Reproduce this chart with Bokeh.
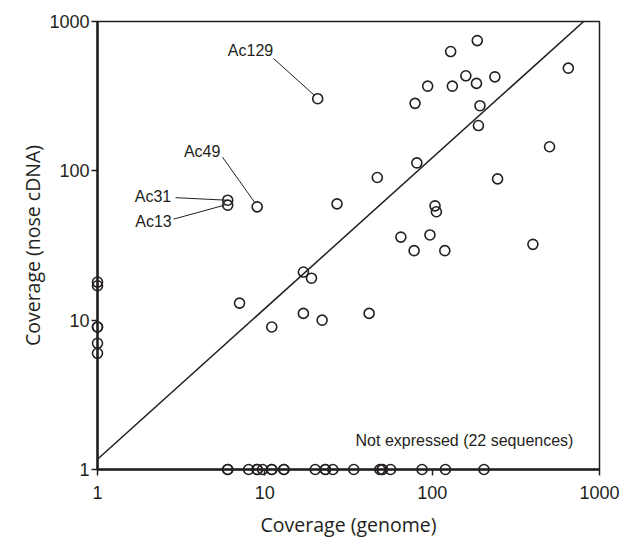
from bokeh.plotting import figure
from bokeh.models import Range1d, FixedTicker, PrintfTickFormatter, ColumnDataSource
from bokeh.core.properties import value
from bokeh.embed import file_html
from bokeh.resources import INLINE

# ---- data ----
expr_x = [20.7, 6.0, 6.0, 9.0, 7.06, 11.0, 17.0, 19.0, 17.0, 22.0, 42.0, 27.0, 47.0,
          65.0, 78.0, 97.0, 104.0, 106.0, 119.0, 400.0, 246.0, 503.0, 651.0, 81.0,
          79.0, 94.0, 132.0, 129.0, 186.0, 159.0, 184.0, 237.0, 193.0, 189.0]
expr_y = [304, 63.6, 58.9, 57.4, 13.0, 9.0, 21.0, 19.1, 11.1, 10.0, 11.1, 60.1, 90.2,
          36.0, 29.2, 37.2, 58.3, 53.2, 29.2, 32.2, 88.3, 145, 487, 113,
          283, 369, 369, 629, 745, 433, 385, 426, 273, 201]

genome_zero_y = [18, 17, 9, 9, 7, 6]
genome_zero_x = [1] * len(genome_zero_y)

not_expr_x = [6, 6, 8, 9, 9, 9.7, 11, 11, 13, 13, 20, 23, 23, 25.5, 34, 48.7, 50.3,
              50.3, 56.4, 87, 120, 204]
not_expr_y = [1] * len(not_expr_x)

fit_x = [1, 804]
fit_y = [1.17, 1000]

label_names = ["Ac129", "Ac49", "Ac31", "Ac13"]
label_x = [8.21, 4.22, 2.147, 2.162]
label_y = [639, 133.7, 67.7, 46.1]
leader_x0 = [11.27, 5.59, 2.926, 2.85]
leader_y0 = [565, 123.3, 66.1, 47.5]
leader_x1 = [19.8, 8.68, 5.90, 5.74]
leader_y1 = [320, 61.7, 63.6, 58.9]

note_text = ["Not expressed (22 sequences)"]
note_x = [156]
note_y = [1.57]

ticks = [1, 10, 100, 1000]

INK = "#231f20"

p = figure(width=630, height=540, x_axis_type="log", y_axis_type="log",
           x_range=Range1d(1, 1000), y_range=Range1d(1, 1000),
           output_backend="svg", toolbar_location=None,
           min_border_left=97, min_border_right=31, min_border_top=21,
           min_border_bottom=70)
p.background_fill_color = "white"
p.border_fill_color = "white"
p.grid.visible = False
p.outline_line_color = INK
p.outline_line_width = 1.5

for ax in (p.xaxis[0], p.yaxis[0]):
    ax.ticker = FixedTicker(ticks=ticks)
    ax.formatter = PrintfTickFormatter(format="%d")
    ax.axis_line_color = INK
    ax.axis_line_width = 2.5
    ax.major_tick_line_color = INK
    ax.major_tick_line_width = 1.5
    ax.major_tick_out = 6
    ax.major_tick_in = 0
    ax.minor_tick_line_color = None
    ax.major_label_text_font = "Liberation Sans"
    ax.major_label_text_font_size = "18px"
    ax.major_label_text_color = INK
    ax.axis_label_text_font = "Open Sans"
    ax.axis_label_text_font_size = "19.5px"
    ax.axis_label_text_font_style = "normal"
    ax.axis_label_text_color = INK

p.xaxis.axis_label = "Coverage (genome)"
p.yaxis.axis_label = "Coverage (nose cDNA)"
p.xaxis.major_label_standoff = 10
p.xaxis.axis_label_standoff = 9
p.yaxis.major_label_standoff = 2
p.yaxis.axis_label_standoff = 0

# fit line
p.line(fit_x, fit_y, line_color=INK, line_width=1.5)

# leader lines
p.segment(x0=leader_x0, y0=leader_y0, x1=leader_x1, y1=leader_y1,
          line_color=INK, line_width=1)

# points
for xs, ys in ((expr_x, expr_y), (genome_zero_x, genome_zero_y), (not_expr_x, not_expr_y)):
    r = p.scatter(xs, ys, marker="circle", size=10, fill_color=None,
                  line_color=INK, line_width=1.6)
    r.level = "overlay"

# labels
lab_src = ColumnDataSource(dict(x=label_x, y=label_y, t=label_names))
p.text(x="x", y="y", text="t", source=lab_src, text_font=value("Liberation Sans"),
       text_font_size="16px", text_color=INK, text_align="center",
       text_baseline="middle")
p.text(x=note_x, y=note_y, text=note_text, text_font=value("Liberation Sans"),
       text_font_size="16px", text_color=INK, text_align="center",
       text_baseline="middle")

open("out.html", "w").write(file_html(p, INLINE))
